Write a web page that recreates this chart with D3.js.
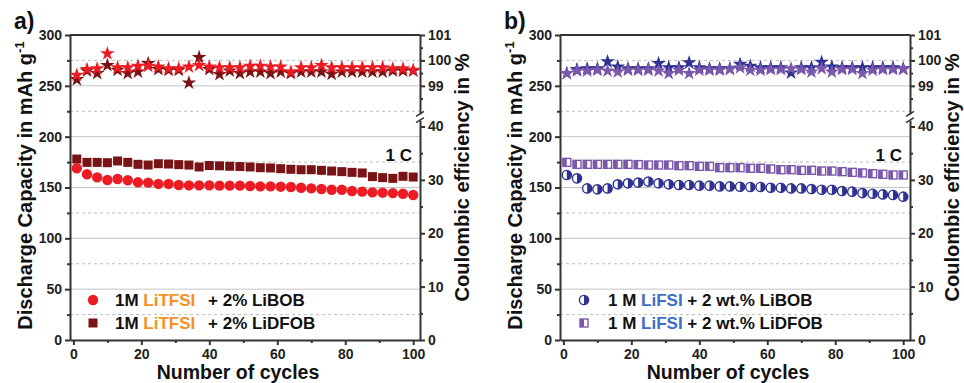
<!DOCTYPE html>
<html>
<head>
<meta charset="utf-8">
<script src="https://cdn.jsdelivr.net/npm/d3@7"></script>
<style>
  body { margin: 0; background: #fff; }
  svg text { font-family: "Liberation Sans", Arial, sans-serif; font-weight: bold; }
</style>
</head>
<body>
<svg id="chart" width="964" height="383"></svg>
<script>
// cycle numbers (every 3rd cycle is plotted)
const cycles = [1, 4, 7, 10, 13, 16, 19, 22, 25, 28, 31, 34, 37, 40, 43, 46, 49,
  52, 55, 58, 61, 64, 67, 70, 73, 76, 79, 82, 85, 88, 91, 94, 97, 100];

// panel a: 1M LiTFSI
const capTfsiBob = [168.9, 163.0, 160.0, 157.4, 158.4, 157.1, 155.1, 154.8, 153.5, 153.5, 152.5, 152.1,
  152.1, 152.1, 151.8, 151.8, 151.8, 151.5, 151.1, 151.1, 150.8, 150.5, 149.8, 149.1, 148.5, 147.8,
  147.8, 146.5, 145.9, 145.2, 144.9, 144.5, 143.9, 142.6];
const capTfsiDfob = [178.0, 174.7, 174.7, 174.4, 176.1, 174.7, 172.8, 172.1, 173.4, 173.1, 172.5, 172.1,
  170.2, 171.6, 171.3, 170.9, 170.6, 170.2, 169.5, 169.2, 168.5, 167.9, 167.5, 167.5, 166.9, 166.2,
  165.6, 164.9, 164.3, 160.7, 159.7, 159.0, 161.0, 160.3];
const ceTfsiBob = [99.42, 99.65, 99.68, 100.27, 99.72, 99.72, 99.78, 99.78, 99.75, 99.68, 99.68, 99.75,
  99.81, 99.75, 99.72, 99.72, 99.72, 99.78, 99.78, 99.75, 99.75, 99.55, 99.72, 99.72, 99.81, 99.72,
  99.72, 99.72, 99.72, 99.72, 99.72, 99.68, 99.68, 99.62];
const ceTfsiDfob = [99.25, 99.59, 99.49, 99.81, 99.62, 99.49, 99.55, 99.88, 99.65, 99.62, 99.62, 99.12,
  100.12, 99.65, 99.45, 99.59, 99.49, 99.55, 99.55, 99.49, 99.55, 99.49, 99.55, 99.55, 99.55, 99.46,
  99.55, 99.55, 99.55, 99.55, 99.55, 99.59, 99.59, 99.59];

// panel b: 1 M LiFSI
const capFsiBob = [162.3, 159.0, 149.1, 148.2, 149.1, 153.1, 154.1, 154.8, 155.8, 154.1, 153.1, 152.5,
  152.5, 151.8, 151.8, 151.1, 151.1, 150.8, 150.5, 150.5, 149.8, 149.8, 149.1, 149.1, 148.5, 147.8,
  147.8, 146.5, 145.9, 144.5, 143.9, 143.2, 142.6, 141.0];
const capFsiDfob = [174.7, 172.8, 172.8, 172.8, 172.8, 172.8, 172.8, 172.5, 172.1, 172.1, 172.1, 171.5,
  171.5, 170.8, 170.8, 169.5, 169.5, 169.5, 168.9, 168.9, 168.2, 167.5, 167.5, 166.9, 166.9, 166.2,
  166.2, 165.6, 164.9, 164.3, 163.6, 163.0, 162.3, 162.3];
const ceFsiBob = [99.49, 99.65, 99.68, 99.68, 99.95, 99.75, 99.68, 99.68, 99.68, 99.88, 99.72, 99.72,
  99.91, 99.72, 99.68, 99.68, 99.68, 99.85, 99.78, 99.72, 99.72, 99.72, 99.51, 99.72, 99.72, 99.93,
  99.75, 99.72, 99.72, 99.72, 99.72, 99.72, 99.72, 99.68];
const ceFsiDfob = [99.49, 99.59, 99.59, 99.62, 99.59, 99.55, 99.62, 99.62, 99.62, 99.59, 99.49, 99.62,
  99.49, 99.62, 99.62, 99.62, 99.65, 99.72, 99.62, 99.62, 99.65, 99.65, 99.68, 99.65, 99.55, 99.68,
  99.55, 99.65, 99.65, 99.49, 99.62, 99.65, 99.65, 99.65];

// axis ticks
const xTicks = [0, 20, 40, 60, 80, 100];
const xMinor = [10, 30, 50, 70, 90];
const capTicks = [0, 50, 100, 150, 200, 250, 300];
const capMinor = [25, 75, 125, 175, 225, 275];
const ceLowTicks = [0, 10, 20, 30, 40];
const ceLowMinor = [5, 15, 25, 35];
const ceHighTicks = [99, 100, 101];
const ceHighMinor = [98.5, 99.5, 100.5];

const red = '#ed1c24', darkRed = '#7a1315', navy = '#2e3192', purple = '#7b58ab';

const svg = d3.select('#chart');
const plotTop = 35, plotBottom = 340;

function drawPanel(cfg) {
  const x = d3.scaleLinear().domain([-1, 102]).range([cfg.left, cfg.left + 350]);
  const y = d3.scaleLinear().domain([0, 300]).range([plotBottom, plotTop]);
  // coulombic efficiency sits on a broken axis mapped onto the capacity range
  const ceLow = d3.scaleLinear().domain([0, 41.2]).range([y(0), y(41.2 * 5.25)]);
  const ceHigh = d3.scaleLinear().domain([97.9, 101]).range([y(222.5), y(300)]);
  const ce = v => (v < 60 ? ceLow(v) : ceHigh(v));
  const right = cfg.left + 350;

  const g = svg.append('g');

  // grid
  g.append('g').selectAll('line').data([50, 100, 150, 200, 250]).join('line')
    .attr('x1', cfg.left).attr('x2', right)
    .attr('y1', d => y(d)).attr('y2', d => y(d))
    .attr('stroke', '#c4c4c4').attr('stroke-width', 1);
  g.append('g').selectAll('line').data(capMinor).join('line')
    .attr('x1', cfg.left).attr('x2', right)
    .attr('y1', d => y(d)).attr('y2', d => y(d))
    .attr('stroke', '#bdbdbd').attr('stroke-width', 1).attr('stroke-dasharray', '3,3');

  // axes
  const styleAxis = sel => {
    sel.selectAll('path, line').attr('stroke', '#333').attr('stroke-width', 2);
    sel.selectAll('text').attr('font-size', 14).attr('fill', '#222');
  };
  g.append('g').attr('transform', `translate(0,${plotBottom})`)
    .call(d3.axisBottom(x).tickValues(xTicks).tickSize(5).tickSizeOuter(0).tickPadding(4))
    .call(styleAxis);
  g.append('g').attr('transform', `translate(0,${plotBottom})`)
    .call(d3.axisBottom(x).tickValues(xMinor).tickSize(3).tickFormat('').tickSizeOuter(0))
    .call(styleAxis).select('.domain').remove();
  g.append('g').attr('transform', `translate(${cfg.left},0)`)
    .call(d3.axisLeft(y).tickValues(capTicks).tickSize(5).tickSizeOuter(0).tickPadding(3))
    .call(styleAxis);
  g.append('g').attr('transform', `translate(${cfg.left},0)`)
    .call(d3.axisLeft(y).tickValues(capMinor).tickSize(3).tickFormat(''))
    .call(styleAxis).select('.domain').remove();
  g.append('line').attr('x1', cfg.left).attr('x2', right).attr('y1', plotTop).attr('y2', plotTop)
    .attr('stroke', '#333').attr('stroke-width', 2);

  [[ceLow, ceLowTicks, ceLowMinor], [ceHigh, ceHighTicks, ceHighMinor]].forEach(([sc, maj, mnr]) => {
    g.append('g').attr('transform', `translate(${right},0)`)
      .call(d3.axisRight(sc).tickValues(maj).tickFormat(d3.format('d'))
        .tickSize(5).tickSizeOuter(0).tickPadding(3))
      .call(styleAxis);
    g.append('g').attr('transform', `translate(${right},0)`)
      .call(d3.axisRight(sc).tickValues(mnr).tickSize(3).tickFormat(''))
      .call(styleAxis).select('.domain').remove();
  });
  // break marks
  [ceHigh(97.9), ceLow(41.2)].forEach(yy => {
    g.append('line').attr('x1', right - 4).attr('x2', right + 4)
      .attr('y1', yy + 2.5).attr('y2', yy - 2.5)
      .attr('stroke', '#333').attr('stroke-width', 1.5);
  });

  // markers
  const star = d3.symbol().type(d3.symbolStar).size(66);
  const drawStars = (vals, color) => {
    g.append('g').selectAll('path').data(cycles).join('path')
      .attr('d', star)
      .attr('transform', (c, i) => `translate(${x(c)},${ce(vals[i])})`)
      .attr('fill', color);
  };
  const halfDisc = d3.arc().innerRadius(0).outerRadius(4.6).startAngle(0).endAngle(Math.PI);

  const drawCircles = (vals, color, half) => {
    const m = g.append('g').selectAll('g').data(cycles).join('g')
      .attr('transform', (c, i) => `translate(${x(c)},${y(vals[i])})`);
    m.append('circle').attr('r', half ? 4.6 : 5.2)
      .attr('fill', half ? '#fff' : color)
      .attr('stroke', half ? color : 'none').attr('stroke-width', 1.4);
    if (half) m.append('path').attr('d', halfDisc()).attr('fill', color);
  };
  const drawSquares = (vals, color, half) => {
    const m = g.append('g').selectAll('g').data(cycles).join('g')
      .attr('transform', (c, i) => `translate(${x(c)},${y(vals[i])})`);
    const s = half ? 8 : 9;
    m.append('rect').attr('x', -s / 2).attr('y', -s / 2).attr('width', s).attr('height', s)
      .attr('fill', half ? '#fff' : color)
      .attr('stroke', half ? color : 'none').attr('stroke-width', 1.4);
    if (half) m.append('rect').attr('x', -s / 2).attr('y', -s / 2).attr('width', s / 2).attr('height', s)
      .attr('fill', color);
  };

  cfg.series(drawStars, drawCircles, drawSquares);

  // texts
  svg.append('text').attr('x', cfg.left - 56).attr('y', 29).attr('font-size', 23).attr('fill', '#111')
    .text(cfg.label);
  svg.append('text').attr('x', right - 8).attr('y', 161).attr('text-anchor', 'end')
    .attr('font-size', 17).attr('fill', '#111').text('1 C');

  const yt = svg.append('text')
    .attr('transform', `translate(${cfg.left - 38},${(plotTop + plotBottom) / 2 - 2}) rotate(-90)`)
    .attr('text-anchor', 'middle').attr('font-size', 20).attr('fill', '#111');
  yt.append('tspan').text('Discharge Capacity in mAh g');
  yt.append('tspan').attr('dy', -8).attr('font-size', 13).text('-1');

  svg.append('text')
    .attr('transform', `translate(${right + 49},${(plotTop + plotBottom) / 2 - 10}) rotate(-90)`)
    .attr('text-anchor', 'middle').attr('font-size', 20).attr('fill', '#111')
    .text('Coulombic efficiency in %');

  svg.append('text').attr('x', cfg.left + 168).attr('y', 379).attr('text-anchor', 'middle')
    .attr('font-size', 19.5).attr('fill', '#111').text('Number of cycles');

  // legend
  cfg.legend.forEach((item, i) => {
    const ly = 300 + i * 23;
    const lx = cfg.left + item.dx;
    const mk = svg.append('g').attr('transform', `translate(${lx},${ly})`);
    item.marker(mk);
    const t = svg.append('text').attr('x', lx + item.gap).attr('y', ly + 6)
      .attr('font-size', 17).attr('fill', '#111');
    t.append('tspan').text(item.pre);
    t.append('tspan').attr('fill', item.saltColor).text(item.salt);
    t.append('tspan').attr('dx', item.postDx).text(item.post);
  });
}

drawPanel({
  left: 70, label: 'a)',
  series: (drawStars, drawCircles, drawSquares) => {
    drawStars(ceTfsiDfob, darkRed);
    drawStars(ceTfsiBob, red);
    drawSquares(capTfsiDfob, darkRed, false);
    drawCircles(capTfsiBob, red, false);
  },
  legend: [
    { dx: 23, gap: 22, postDx: 8, pre: '1M ', salt: 'LiTFSI', saltColor: '#f7901e', post: ' + 2% LiBOB',
      marker: m => m.append('circle').attr('r', 5.2).attr('fill', red) },
    { dx: 23, gap: 22, postDx: 8, pre: '1M ', salt: 'LiTFSI', saltColor: '#f7901e', post: ' + 2% LiDFOB',
      marker: m => m.append('rect').attr('x', -4.5).attr('y', -4.5).attr('width', 9).attr('height', 9).attr('fill', darkRed) }
  ]
});

drawPanel({
  left: 560, label: 'b)',
  series: (drawStars, drawCircles, drawSquares) => {
    drawStars(ceFsiBob, navy);
    drawStars(ceFsiDfob, purple);
    drawSquares(capFsiDfob, purple, true);
    drawCircles(capFsiBob, navy, true);
  },
  legend: [
    { dx: 24, gap: 24, postDx: 0, pre: '1 M ', salt: 'LiFSI', saltColor: '#3c6ec8', post: ' + 2 wt.% LiBOB',
      marker: m => {
        m.append('circle').attr('r', 4.6).attr('fill', '#fff').attr('stroke', navy).attr('stroke-width', 1.4);
        m.append('path').attr('d', d3.arc().innerRadius(0).outerRadius(4.6).startAngle(0).endAngle(Math.PI)()).attr('fill', navy);
      } },
    { dx: 24, gap: 24, postDx: 0, pre: '1 M ', salt: 'LiFSI', saltColor: '#3c6ec8', post: ' + 2 wt.% LiDFOB',
      marker: m => {
        m.append('rect').attr('x', -4).attr('y', -4).attr('width', 8).attr('height', 8)
          .attr('fill', '#fff').attr('stroke', purple).attr('stroke-width', 1.4);
        m.append('rect').attr('x', -4).attr('y', -4).attr('width', 4).attr('height', 8).attr('fill', purple);
      } }
  ]
});
</script>
</body>
</html>
